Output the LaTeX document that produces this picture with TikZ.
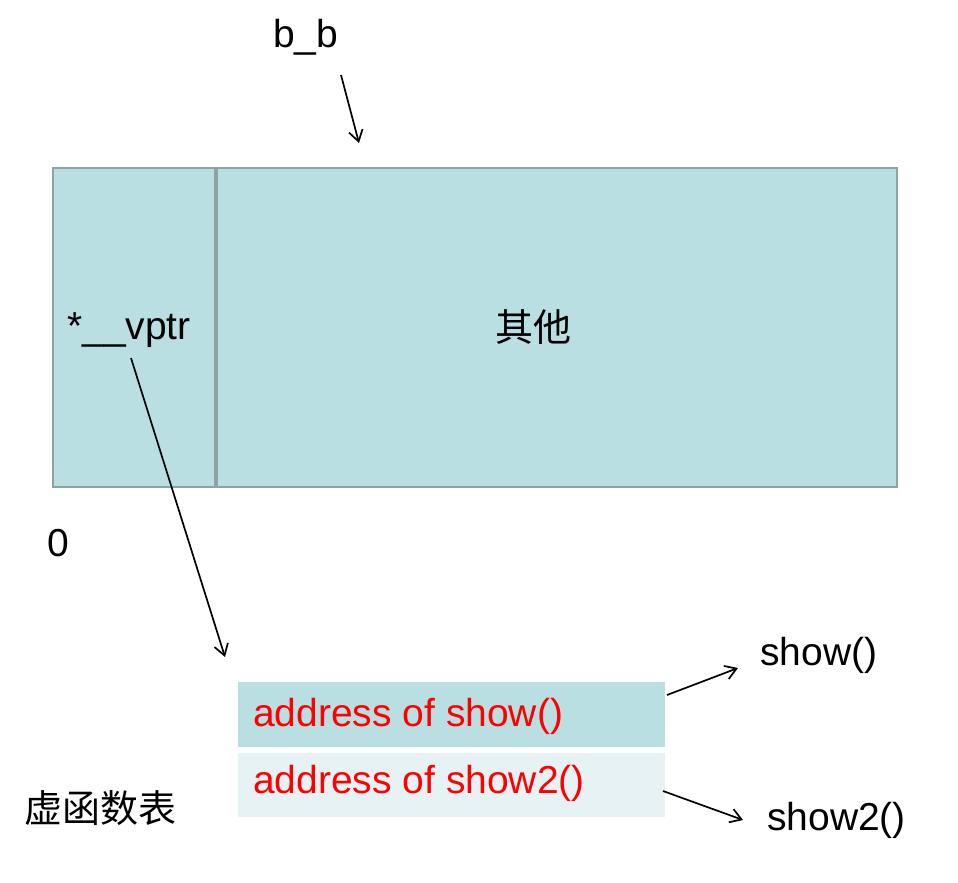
\documentclass[tikz,border=0pt]{standalone}
\usepackage{fontspec}
\setmainfont{Liberation Sans}
\newfontfamily\cjk{Noto Sans CJK SC}
\usetikzlibrary{arrows.meta}
\definecolor{boxfill}{HTML}{B9DFE2}
\definecolor{boxline}{HTML}{8DA4A6}
\definecolor{rowtwo}{HTML}{E6F2F3}
\definecolor{addrred}{HTML}{FF0000}
\tikzset{
  lbl/.style={inner sep=0pt, font=\fontsize{39}{45}\selectfont},
  cjklbl/.style={inner sep=0pt, font=\fontsize{38}{44}\selectfont\cjk},
  addr/.style={inner sep=0pt, text=addrred, font=\fontsize{39}{45}\selectfont},
  conn/.style={line width=1.7pt, -{Straight Barb[length=11pt,width=14pt,line width=1.7pt]}},
}
\begin{document}
\begin{tikzpicture}[x=1pt,y=-1pt]
\useasboundingbox (0,0) rectangle (958,883);
% main object box
\draw[fill=boxfill, draw=boxline, line width=2pt] (53,168) rectangle (897,487);
\draw[boxline, line width=4pt] (216,169) -- (216,486);
% vtable rows
\fill[boxfill] (238,682) rectangle (665,747);
\fill[rowtwo] (238,753) rectangle (665,817);
% labels
\node[lbl, anchor=base west] (bb) at (273,48) {b\_b};
\coordinate (bbtip) at (359,143);
\node[lbl, anchor=base west] (vptr) at (67,339) {*\_\_vptr};
\node[cjklbl] (other) at (533,327) {其他};
\node[lbl, anchor=base west] (zero) at (47,556) {0};
\node[addr, anchor=base west] (a1) at (253,726) {address of show()};
\node[addr, anchor=base west] (a2) at (253,793) {address of show2()};
\node[lbl, anchor=base west] (s1) at (760,665) {show()};
\node[lbl, anchor=base west] (s2) at (767,830) {show2()};
\node[cjklbl, anchor=west] (vt) at (24,808) {虚函数表};
\coordinate (bbstart) at (341,75);
\coordinate (vstart) at (131,358);
\coordinate (vtip) at (225,657);
\coordinate (a1start) at (667,695);
\coordinate (a1tip) at (738,668);
\coordinate (a2start) at (663,791);
\coordinate (a2tip) at (743,820);
% connectors
\draw[conn] (bbstart) -- (bbtip);
\draw[conn] (vstart) -- (vtip);
\draw[conn] (a1start) -- (a1tip);
\draw[conn] (a2start) -- (a2tip);
\end{tikzpicture}
\end{document}
